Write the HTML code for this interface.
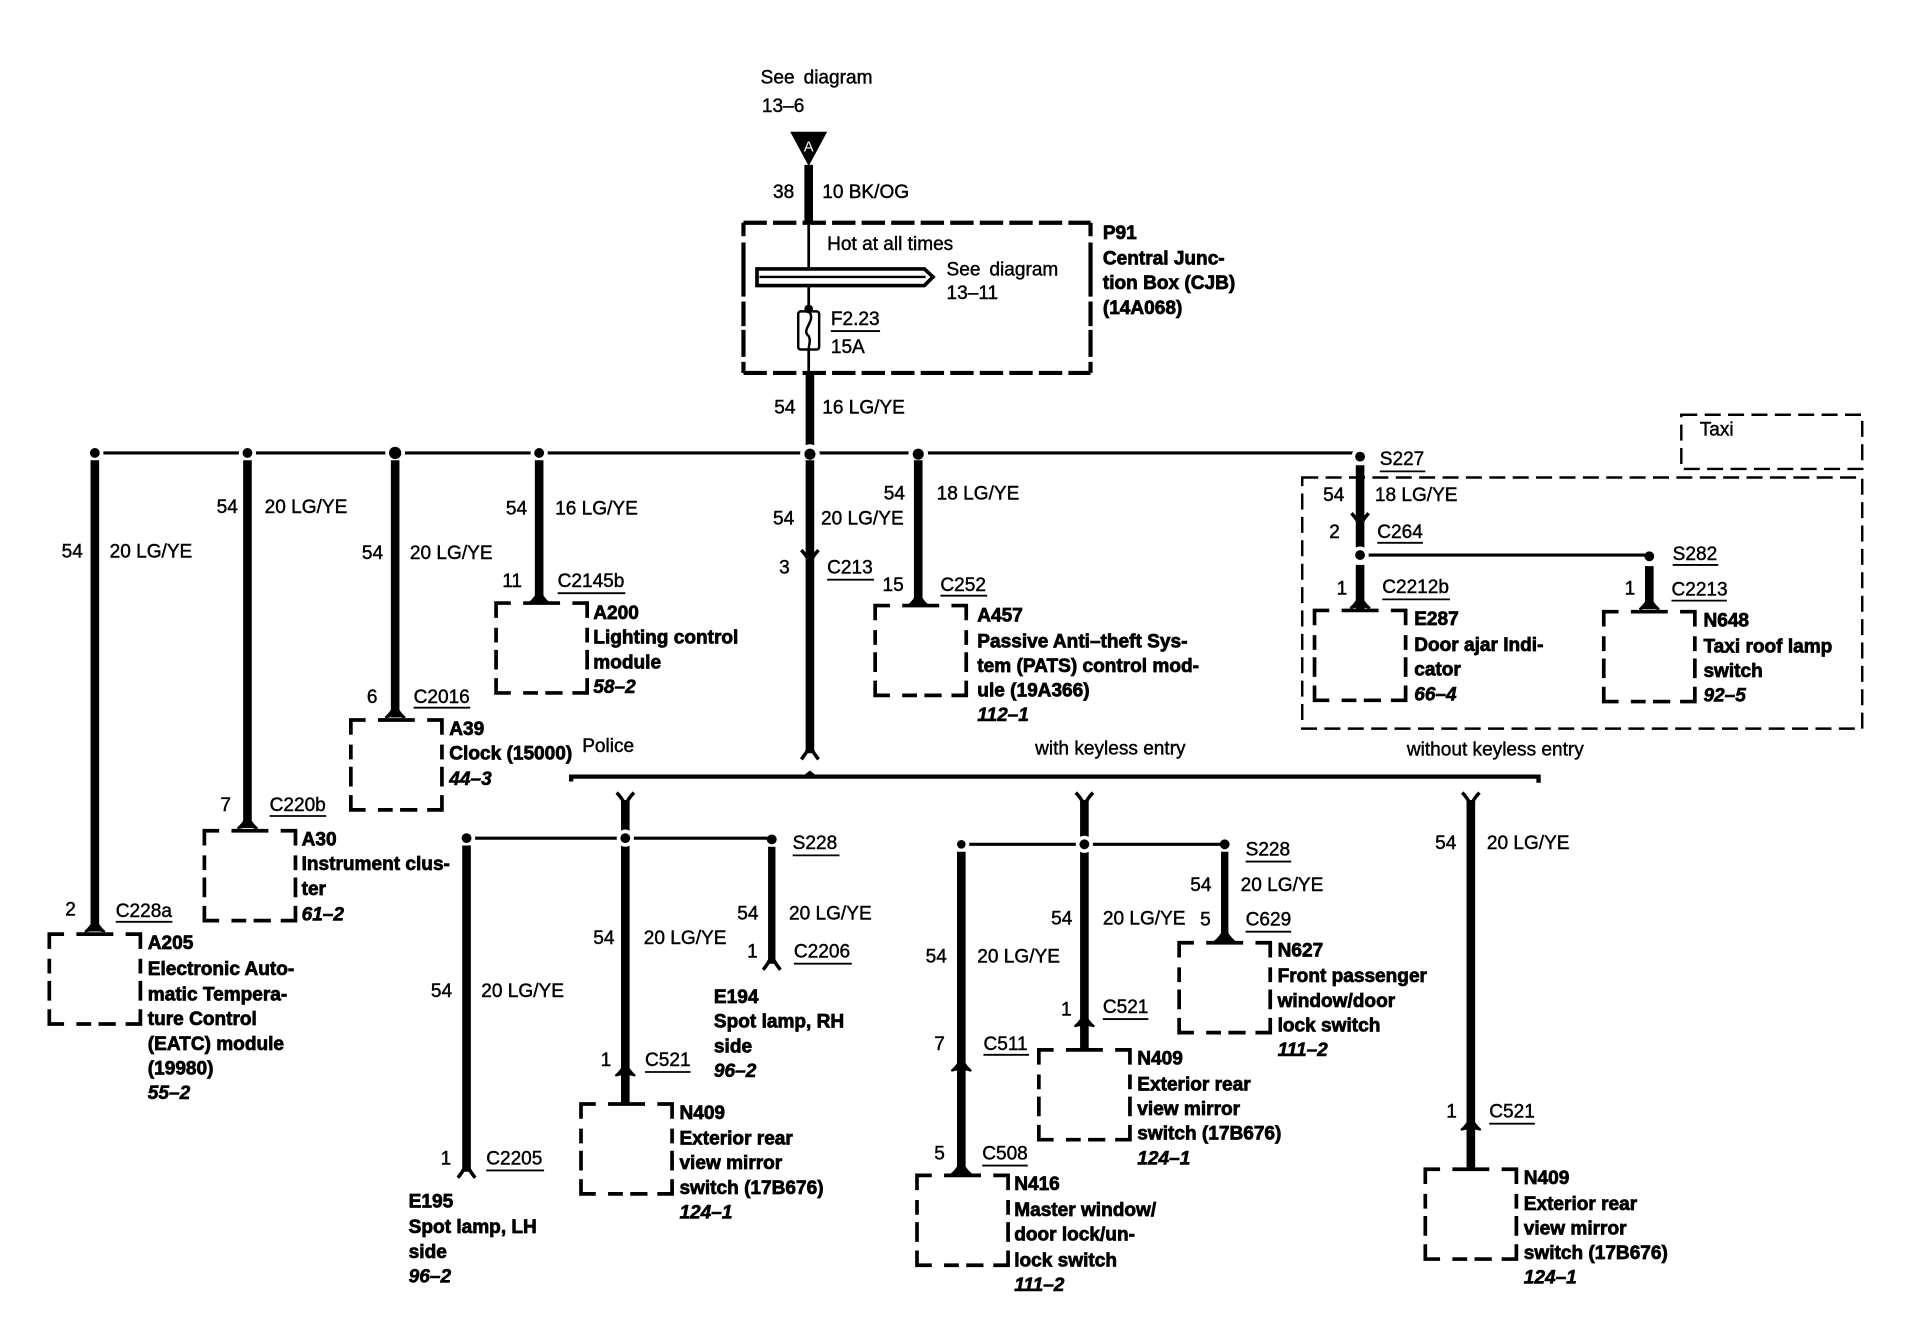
<!DOCTYPE html>
<html><head><meta charset="utf-8"><style>
html,body{margin:0;padding:0;background:#fff;width:1930px;height:1328px;overflow:hidden}
svg{display:block}
text{font-family:"Liberation Sans",sans-serif;font-size:15.5px;fill:#000;stroke:#000;stroke-width:.35}
.b{font-weight:bold;stroke-width:.6}
.i{font-weight:bold;font-style:italic;stroke-width:.5}
.w{stroke:#000;stroke-width:7;fill:none}
.m{stroke:#000;stroke-width:6;fill:none}
.t{stroke:#000;stroke-width:2.5;fill:none}
.u{stroke:#000;stroke-width:1.5;fill:none}
.d{stroke:#000;stroke-width:3.4;fill:none}
.e{stroke:#000;stroke-width:2;fill:none;stroke-dasharray:13 6}
.c{stroke:#000;stroke-width:3;fill:none}
</style></head><body>
<svg width="1930" height="1328" viewBox="0 0 1568 1079" xmlns="http://www.w3.org/2000/svg">
<defs>
<path id="up" d="M-8 7 Q-3 3 0 -4 Q3 3 8 7 L4 6 L-4 6Z" stroke="#000" stroke-width="1.600" fill="#000"/>
<path id="fork" d="M-7 -4 Q-3 0 0 6 Q3 0 7 -4" stroke="#000" stroke-width="2.800" fill="none"/>
<path id="foot" d="M-7 5 Q-3 0 0 -6 Q3 0 7 5" stroke="#000" stroke-width="2.800" fill="none"/>
<g id="box"><path class="c" d="M0 12V0H12M62 0H74V12M74 61V73H62M12 73H0V61"/>
<path class="c" d="M22 0H52M74 20V32M74 38V54M22 73H34M40 73H54M0 20V32M0 38V54"/></g>
</defs>

<!-- top -->
<text x="618" y="68" word-spacing="3">See diagram</text><text x="619" y="91">13–6</text>
<path d="M642 107H672L657 135Z" fill="#000"/>
<text x="657" y="123" text-anchor="middle" style="fill:#fff;stroke:none;font-size:12px">A</text>
<path class="w" d="M657 134V181"/>
<text x="628" y="161">38</text><text x="668" y="161">10 BK/OG</text>

<path class="d" stroke-dasharray="19 5" d="M604 181H886"/>
<path class="d" stroke-dasharray="19 5" d="M604 303H886"/>
<path class="d" d="M604 181V192M604 197V241M604 245V265M604 268V290M604 294V303M886 181V192M886 197V241M886 245V265M886 268V290M886 294V303"/>
<path class="u" style="stroke-width:2.200" d="M657 181V218M657 232V254M657 284V303"/>
<path d="M615 218.500H751L758 225L751 232H615Z" fill="#fff" stroke="#000" stroke-width="3"/>
<path d="M617 225H752" stroke="#000" stroke-width="2"/>
<rect x="648.500" y="253" width="17" height="31" rx="2" fill="#fff" stroke="#000" stroke-width="2"/>
<path d="M657 253C664 260 650 268 657 273C659 277 657 280 657 284" fill="none" stroke="#000" stroke-width="2"/>
<circle cx="657" cy="251" r="3.500"/>
<text x="672" y="203">Hot at all times</text>
<text x="769" y="224" word-spacing="3">See diagram</text><text x="769" y="243">13–11</text>
<text x="675" y="264">F2.23</text><path class="u" d="M675 269H715"/><text x="675" y="287">15A</text>
<text class="b" x="896" y="194">P91</text><text class="b" x="896" y="215">Central Junc-</text>
<text class="b" x="896" y="235">tion Box (CJB)</text><text class="b" x="896" y="255">(14A068)</text>

<path class="w" d="M658 303V362"/>
<text x="629" y="336">54</text><text x="668" y="336">16 LG/YE</text>

<!-- bus -->
<path class="t" d="M77 368H1105"/>
<g fill="#fff"><circle cx="77" cy="368" r="7"/><circle cx="201" cy="368" r="7"/><circle cx="321" cy="368" r="8"/><circle cx="438" cy="368" r="7"/><circle cx="658" cy="369" r="8"/><circle cx="746" cy="369" r="8"/><circle cx="1105" cy="371" r="7"/></g>
<g fill="#000"><circle cx="77" cy="368" r="4"/><circle cx="201" cy="368" r="4"/><circle cx="321" cy="368" r="5"/><circle cx="438" cy="368" r="4"/><circle cx="658" cy="369" r="4.500"/><circle cx="746" cy="369" r="4.500"/><circle cx="1105" cy="371" r="4"/></g>

<!-- A205 -->
<path class="w" d="M77 374V755"/><use href="#up" x="77" y="750"/>
<text x="50" y="453">54</text><text x="89" y="453">20 LG/YE</text>
<text x="53" y="744">2</text><text x="94" y="745">C228a</text><path class="u" d="M94 749H140"/>
<use href="#box" x="40" y="759"/>
<text class="b" x="120" y="771">A205</text><text class="b" x="120" y="792">Electronic Auto-</text><text class="b" x="120" y="813">matic Tempera-</text><text class="b" x="120" y="833">ture Control</text><text class="b" x="120" y="853">(EATC) module</text><text class="b" x="120" y="873">(19980)</text><text class="i" x="120" y="893">55–2</text>

<!-- A30 -->
<path class="w" d="M201 374V672"/><use href="#up" x="201" y="666"/>
<text x="176" y="417">54</text><text x="215" y="417">20 LG/YE</text>
<text x="179" y="659">7</text><text x="219" y="659">C220b</text><path class="u" d="M219 663H265"/>
<use href="#box" x="166" y="675"/>
<text class="b" x="245" y="687">A30</text><text class="b" x="245" y="707">Instrument clus-</text><text class="b" x="245" y="727">ter</text><text class="i" x="245" y="748">61–2</text>

<!-- A39 -->
<path class="w" d="M321 374V583"/><use href="#up" x="321" y="576"/>
<text x="294" y="454">54</text><text x="333" y="454">20 LG/YE</text>
<text x="298" y="571">6</text><text x="336" y="571">C2016</text><path class="u" d="M336 575H382"/>
<use href="#box" x="285" y="585"/>
<text class="b" x="365" y="597">A39</text><text class="b" x="365" y="617">Clock (15000)</text><text class="i" x="365" y="638">44–3</text>

<!-- A200 -->
<path class="w" d="M438 374V490"/><use href="#up" x="438" y="483"/>
<text x="411" y="418">54</text><text x="451" y="418">16 LG/YE</text>
<text x="408" y="477">11</text><text x="453" y="477">C2145b</text><path class="u" d="M453 482H508"/>
<use href="#box" x="403" y="490"/>
<text class="b" x="482" y="503">A200</text><text class="b" x="482" y="523">Lighting control</text><text class="b" x="482" y="543">module</text><text class="i" x="482" y="563">58–2</text>

<!-- centre -->
<path class="w" d="M658 374V612"/><use href="#fork" x="658" y="451"/><use href="#foot" x="658" y="612"/>
<text x="628" y="426">54</text><text x="667" y="426">20 LG/YE</text>
<text x="633" y="466">3</text><text x="672" y="466">C213</text><path class="u" d="M672 471H710"/>

<!-- A457 -->
<path class="w" d="M746 374V490"/><use href="#up" x="746" y="485"/>
<text x="718" y="406">54</text><text x="761" y="406">18 LG/YE</text>
<text x="717" y="480">15</text><text x="764" y="480">C252</text><path class="u" d="M764 484H802"/>
<use href="#box" x="711" y="492"/>
<text class="b" x="794" y="505">A457</text><text class="b" x="794" y="526">Passive Anti–theft Sys-</text><text class="b" x="794" y="546">tem (PATS) control mod-</text><text class="b" x="794" y="566">ule (19A366)</text><text class="i" x="794" y="586">112–1</text>

<!-- Taxi -->
<path class="e" d="M1366 337H1513V381H1366Z"/><text x="1381" y="354">Taxi</text>
<path class="e" d="M1058 388H1513V592H1058Z"/>
<path class="w" d="M1105 378V445"/><use href="#fork" x="1105" y="421"/>
<text x="1121" y="378">S227</text><path class="u" d="M1121 383H1158"/>
<text x="1075" y="407">54</text><text x="1117" y="407">18 LG/YE</text>
<text x="1080" y="437">2</text><text x="1119" y="437">C264</text><path class="u" d="M1119 441H1156"/>
<path class="t" d="M1105 451H1340"/>
<circle cx="1105" cy="451" r="7" fill="#fff"/><circle cx="1105" cy="451" r="4"/><circle cx="1340" cy="452" r="4"/>
<text x="1359" y="455">S282</text><path class="u" d="M1359 459H1396"/>
<path class="w" d="M1105 459V495"/><use href="#up" x="1105" y="487"/>
<text x="1086" y="483">1</text><text x="1123" y="482">C2212b</text><path class="u" d="M1123 487H1178"/>
<use href="#box" x="1068" y="496"/>
<text class="b" x="1149" y="508">E287</text><text class="b" x="1149" y="529">Door ajar Indi-</text><text class="b" x="1149" y="549">cator</text><text class="i" x="1149" y="569">66–4</text>
<path class="w" d="M1340 460V495"/><use href="#up" x="1340" y="488"/>
<text x="1320" y="483">1</text><text x="1358" y="484">C2213</text><path class="u" d="M1358 488H1403"/>
<use href="#box" x="1303" y="497"/>
<text class="b" x="1384" y="509">N648</text><text class="b" x="1384" y="530">Taxi roof lamp</text><text class="b" x="1384" y="550">switch</text><text class="i" x="1384" y="570">92–5</text>

<text x="473" y="611">Police</text><text x="841" y="613">with keyless entry</text><text x="1143" y="614">without keyless entry</text>
<path d="M464 635V631H1250V636" fill="none" stroke="#000" stroke-width="3.500"/>
<path d="M653 630L658 626L663 630Z" fill="#000"/>

<!-- Police -->
<path class="w" d="M508 650V896"/><use href="#fork" x="508" y="648"/><use href="#up" x="508" y="867"/>
<path class="t" d="M379 681H627"/>
<circle cx="379" cy="681" r="7" fill="#fff"/><circle cx="508" cy="681" r="7" fill="#fff"/>
<circle cx="379" cy="681" r="4"/><circle cx="508" cy="681" r="4"/><circle cx="627" cy="682" r="4"/>
<text x="644" y="690">S228</text><path class="u" d="M644 695H682"/>
<path class="w" d="M379 687V952"/><use href="#foot" x="379" y="952"/>
<text x="350" y="810">54</text><text x="391" y="810">20 LG/YE</text>
<text x="358" y="946">1</text><text x="395" y="946">C2205</text><path class="u" d="M395 951H442"/>
<text class="b" x="332" y="981">E195</text><text class="b" x="332" y="1002">Spot lamp, LH</text><text class="b" x="332" y="1022">side</text><text class="i" x="332" y="1042">96–2</text>
<text x="482" y="767">54</text><text x="523" y="767">20 LG/YE</text>
<text x="488" y="866">1</text><text x="524" y="866">C521</text><path class="u" d="M524 871H561"/>
<use href="#box" x="472" y="897"/>
<text class="b" x="552" y="909">N409</text><text class="b" x="552" y="930">Exterior rear</text><text class="b" x="552" y="950">view mirror</text><text class="b" x="552" y="970">switch (17B676)</text><text class="i" x="552" y="990">124–1</text>
<path class="m" d="M627 688V783"/><use href="#foot" x="627" y="783"/>
<text x="599" y="747">54</text><text x="641" y="747">20 LG/YE</text>
<text x="607" y="778">1</text><text x="645" y="778">C2206</text><path class="u" d="M645 783H692"/>
<text class="b" x="580" y="815">E194</text><text class="b" x="580" y="835">Spot lamp, RH</text><text class="b" x="580" y="855">side</text><text class="i" x="580" y="875">96–2</text>

<!-- with keyless -->
<path class="w" d="M881 650V852"/><use href="#fork" x="881" y="648"/><use href="#up" x="881" y="827"/>
<path class="t" d="M781 686H995"/>
<circle cx="781" cy="686" r="6.500" fill="#fff"/><circle cx="881" cy="686" r="7" fill="#fff"/>
<circle cx="781" cy="686" r="3.500"/><circle cx="881" cy="686" r="4"/><circle cx="995" cy="686" r="4"/>
<text x="1012" y="695">S228</text><path class="u" d="M1012 700H1049"/>
<path class="w" d="M781 692V954"/><use href="#up" x="781" y="863"/><use href="#up" x="781" y="947"/>
<text x="752" y="782">54</text><text x="794" y="782">20 LG/YE</text>
<text x="759" y="853">7</text><text x="799" y="853">C511</text><path class="u" d="M799 857H836"/>
<text x="759" y="942">5</text><text x="798" y="942">C508</text><path class="u" d="M798 947H835"/>
<use href="#box" x="745" y="955"/>
<text class="b" x="824" y="967">N416</text><text class="b" x="824" y="988">Master window/</text><text class="b" x="824" y="1008">door lock/un-</text><text class="b" x="824" y="1029">lock switch</text><text class="i" x="824" y="1049">111–2</text>
<text x="854" y="751">54</text><text x="896" y="751">20 LG/YE</text>
<text x="862" y="825">1</text><text x="896" y="823">C521</text><path class="u" d="M896 828H933"/>
<use href="#box" x="844" y="853"/>
<text class="b" x="924" y="865">N409</text><text class="b" x="924" y="886">Exterior rear</text><text class="b" x="924" y="906">view mirror</text><text class="b" x="924" y="926">switch (17B676)</text><text class="i" x="924" y="946">124–1</text>
<path class="m" d="M995 692V764"/><use href="#up" x="995" y="758"/>
<text x="967" y="724">54</text><text x="1008" y="724">20 LG/YE</text>
<text x="975" y="752">5</text><text x="1012" y="752">C629</text><path class="u" d="M1012 757H1049"/>
<use href="#box" x="958" y="766"/>
<text class="b" x="1038" y="777">N627</text><text class="b" x="1038" y="798">Front passenger</text><text class="b" x="1038" y="818">window/door</text><text class="b" x="1038" y="838">lock switch</text><text class="i" x="1038" y="858">111–2</text>

<!-- without keyless -->
<path class="w" d="M1195 650V949"/><use href="#fork" x="1195" y="648"/><use href="#up" x="1195" y="911"/>
<text x="1166" y="690">54</text><text x="1208" y="690">20 LG/YE</text>
<text x="1175" y="908">1</text><text x="1210" y="908">C521</text><path class="u" d="M1210 913H1247"/>
<use href="#box" x="1158" y="950"/>
<text class="b" x="1238" y="962">N409</text><text class="b" x="1238" y="983">Exterior rear</text><text class="b" x="1238" y="1003">view mirror</text><text class="b" x="1238" y="1023">switch (17B676)</text><text class="i" x="1238" y="1043">124–1</text>
</svg>
</body></html>
